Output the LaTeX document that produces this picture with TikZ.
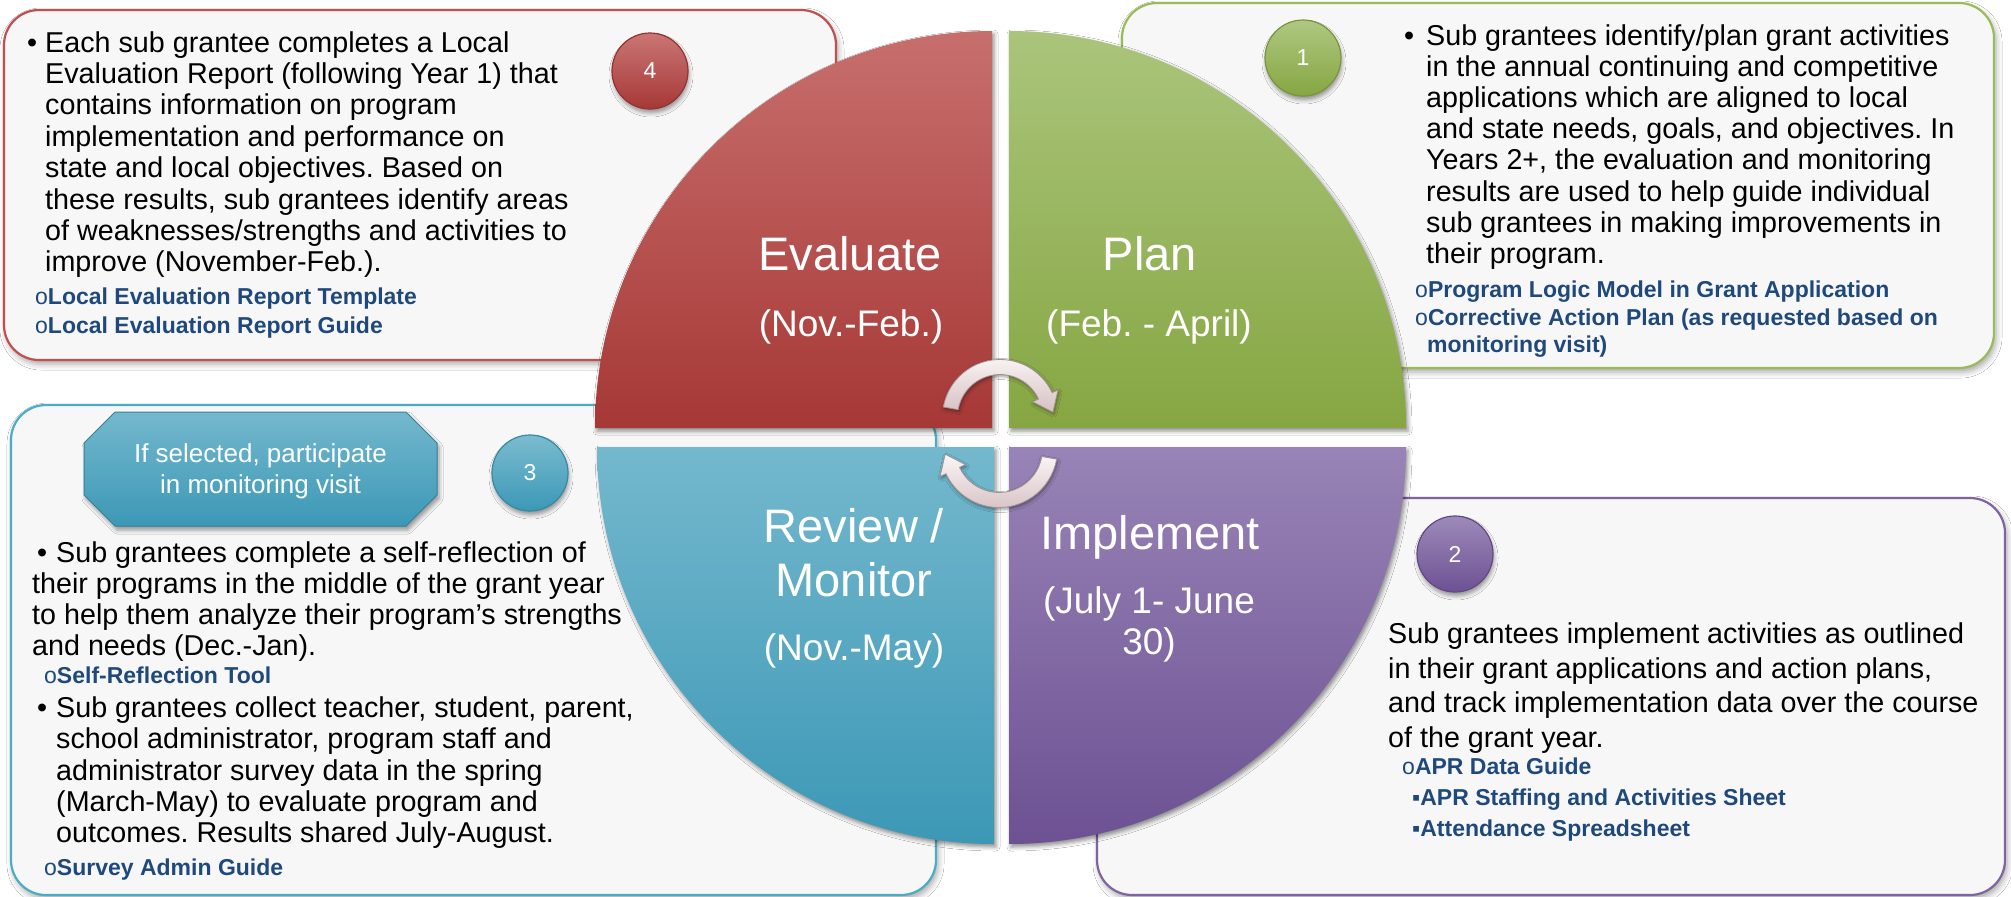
\documentclass[tikz,border=0pt]{standalone}
\usepackage{fontspec}
\setmainfont{Liberation Sans}
\usetikzlibrary{calc,shadows.blur}
\definecolor{boxfill}{HTML}{F7F7F7}
\definecolor{redB}{HTML}{C0504D}
\definecolor{greenB}{HTML}{9BBB59}
\definecolor{blueB}{HTML}{4BACC6}
\definecolor{purpleB}{HTML}{8064A2}
\definecolor{redT}{HTML}{C76F6D}
\definecolor{redD}{HTML}{A63836}
\definecolor{greenT}{HTML}{AAC57B}
\definecolor{greenD}{HTML}{86A642}
\definecolor{blueT}{HTML}{74B8CD}
\definecolor{blueD}{HTML}{3C98B6}
\definecolor{purpleT}{HTML}{9884B6}
\definecolor{purpleD}{HTML}{6D5193}
\definecolor{linkblue}{HTML}{1F497D}
\definecolor{arrT}{HTML}{FBF6F6}
\definecolor{arrD}{HTML}{D6C0C3}
\definecolor{arrE}{HTML}{A39193}
\newcommand\myBody{\fontsize{28.7}{31}\selectfont}
\newcommand\myLink{\bfseries\fontsize{23}{26}\selectfont}
\newcommand\myLab{\fontsize{47}{54}\selectfont}
\newcommand\mySub{\fontsize{37}{42}\selectfont}
\newcommand\myNum{\fontsize{23}{26}\selectfont}
\newcommand\myOct{\fontsize{26}{31}\selectfont}
\frenchspacing
\begin{document}
\frenchspacing
\begin{tikzpicture}[x=1pt,y=-1pt,
  box/.style={rounded corners=35pt, fill=boxfill, line width=2.2pt,
    blur shadow={shadow xshift=2pt, shadow yshift=-4pt, shadow blur radius=6pt, shadow opacity=35}},
  quad/.style={blur shadow={shadow xshift=2pt, shadow yshift=-3pt, shadow blur radius=4pt, shadow opacity=45}},
  num/.style={circle, minimum size=76pt, inner sep=0pt, line width=1.2pt, text=white, font=\myNum,
    blur shadow={shadow xshift=1pt, shadow yshift=-4pt, shadow blur radius=4pt, shadow opacity=40}},
  body/.style={font=\myBody, anchor=base west, inner sep=0pt, text=black},
  link/.style={font=\myLink, anchor=base west, inner sep=0pt, text=linkblue},
  qlab/.style={font=\myLab, anchor=base, inner sep=0pt, text=white},
  qsub/.style={font=\mySub, anchor=base, inner sep=0pt, text=white},
  octtext/.style={font=\myOct, anchor=base, inner sep=0pt, text=white},
  arrowband/.style={top color=arrT, bottom color=arrD, draw=arrE, line width=0.8pt,
    blur shadow={shadow xshift=1pt, shadow yshift=-2pt, shadow blur radius=3pt, shadow opacity=40}}
]
\useasboundingbox (0,0) rectangle (2011,897);
\fill[white] (0,0) rectangle (2011,897);

% text boxes
\draw[box, draw=redB] (4,10) rectangle (836,360);
\draw[box, draw=greenB] (1122,3) rectangle (1994,368);
\draw[box, draw=blueB] (11,405) rectangle (936,895);
\draw[box, draw=purpleB] (1097,498) rectangle (2005,895);

% quadrants
\coordinate (qr) at (992,428);
\coordinate (qg) at (1009,428);
\coordinate (qb) at (994,447);
\coordinate (qp) at (1009,447);
\path[quad, top color=redT, bottom color=redD] (qr) -- ++(-397,0) arc[start angle=180, end angle=270, radius=397] -- cycle;
\path[quad, top color=greenT, bottom color=greenD] (qg) -- ++(0,-397) arc[start angle=270, end angle=360, radius=397] -- cycle;
\path[quad, top color=blueT, bottom color=blueD] (qb) -- ++(0,397) arc[start angle=90, end angle=180, radius=397] -- cycle;
\path[quad, top color=purpleT, bottom color=purpleD] (qp) -- ++(397,0) arc[start angle=0, end angle=90, radius=397] -- cycle;

% quadrant labels
\node[qlab] (evl) at (850,270) {Evaluate};
\node[qsub] (evd) at (851,336) {(Nov.-Feb.)};
\node[qlab] (pll) at (1150,270) {Plan};
\node[qsub] (pld) at (1149,336) {(Feb. - April)};
\node[qlab] (rvl) at (854,542) {Review /};
\node[qlab] (rvm) at (854,596) {Monitor};
\node[qsub] (rvd) at (854,660) {(Nov.-May)};
\node[qlab] (iml) at (1150,549) {Implement};
\node[qsub] (imd1) at (1149,613) {(July 1- June};
\node[qsub] (imd2) at (1149,654) {30)};

% circular arrows
\coordinate (ca) at (1000,417);
\coordinate (cb) at (999,449);
\path[arrowband] ($(ca)+(190:57.5)$) arc[start angle=190, end angle=335, radius=57.5]
  -- ($(ca)+(335:64)$) -- ($(ca)+(335:50)+(65:18)$) -- ($(ca)+(335:36)$)
  -- ($(ca)+(335:42.5)$) arc[start angle=335, end angle=190, radius=42.5] -- cycle;
\path[arrowband] ($(cb)+(10:58.5)$) arc[start angle=10, end angle=155, radius=58.5]
  -- ($(cb)+(155:65)$) -- ($(cb)+(155:51)+(245:18)$) -- ($(cb)+(155:37)$)
  -- ($(cb)+(155:43.5)$) arc[start angle=155, end angle=10, radius=43.5] -- cycle;

% numbered circles
\node[num, draw=redD!90!black, top color=redT!95!white, bottom color=redD] (n4) at (650,71) {4};
\node[num, draw=greenD!90!black, top color=greenT!95!white, bottom color=greenD] (n1) at (1303,58) {1};
\node[num, draw=blueD!90!black, top color=blueT!95!white, bottom color=blueD] (n3) at (530,473) {3};
\node[num, draw=purpleD!90!black, top color=purpleT!95!white, bottom color=purpleD] (n2) at (1455,554) {2};

% monitoring visit octagon
\path[top color=blueT, bottom color=blueD, draw=blueD!85!black, line width=1pt,
  blur shadow={shadow xshift=2pt, shadow yshift=-4pt, shadow blur radius=4pt, shadow opacity=40}]
  (84,443) -- (115,412) -- (406,412) -- (437,443) -- (437,495) -- (406,526) -- (115,526) -- (84,495) -- cycle;
\node[octtext] (mon1) at (260.5,462) {If selected, participate};
\node[octtext] (mon2) at (260.5,493) {in monitoring visit};

% box 4 text (Evaluate)
\node[body] (b4bul) at (27,52) {•};
\foreach \i/\t in {0/{Each sub grantee completes a Local},
  1/{Evaluation Report (following Year 1) that},
  2/{contains information on program},
  3/{implementation and performance on},
  4/{state and local objectives. Based on},
  5/{these results, sub grantees identify areas},
  6/{of weaknesses/strengths and activities to},
  7/{improve (November-Feb.).}}
  \node[body] (b4-\i) at (45,{52+31.4*\i}) {\t};
\node[link] (l4-0) at (35,304) {{\mdseries o}Local Evaluation Report Template};
\node[link] (l4-1) at (35,333) {{\mdseries o}Local Evaluation Report Guide};

% box 1 text (Plan)
\node[body] (b1bul) at (1404,45) {•};
\foreach \i/\t in {0/{Sub grantees identify/plan grant activities},
  1/{in the annual continuing and competitive},
  2/{applications which are aligned to local},
  3/{and state needs, goals, and objectives. In},
  4/{Years 2+, the evaluation and monitoring},
  5/{results are used to help guide individual},
  6/{sub grantees in making improvements in},
  7/{their program.}}
  \node[body] (b1-\i) at (1426,{45+31.2*\i}) {\t};
\node[link] (l1-0) at (1415,297) {{\mdseries o}Program Logic Model in Grant Application};
\node[link] (l1-1) at (1415,325) {{\mdseries o}Corrective Action Plan (as requested based on};
\node[link] (l1-2) at (1427,352) {monitoring visit)};

% box 3 text (Review / Monitor)
\node[body] (b3bul1) at (37,562) {•};
\node[body] (b3-0) at (56,562) {Sub grantees complete a self-reflection of};
\node[body] (b3-1) at (32,593) {their programs in the middle of the grant year};
\node[body] (b3-2) at (32,624) {to help them analyze their program’s strengths};
\node[body] (b3-3) at (32,655) {and needs (Dec.-Jan).};
\node[link] (l3-0) at (44,683) {{\mdseries o}Self-Reflection Tool};
\node[body] (b3bul2) at (37,717) {•};
\node[body] (b3-4) at (56,717) {Sub grantees collect teacher, student, parent,};
\node[body] (b3-5) at (56,748) {school administrator, program staff and};
\node[body] (b3-6) at (56,780) {administrator survey data in the spring};
\node[body] (b3-7) at (56,811) {(March-May) to evaluate program and};
\node[body] (b3-8) at (56,842) {outcomes. Results shared July-August.};
\node[link] (l3-1) at (44,875) {{\mdseries o}Survey Admin Guide};

% box 2 text (Implement)
\node[body] (b2-0) at (1388,643) {Sub grantees implement activities as outlined};
\node[body] (b2-1) at (1388,678) {in their grant applications and action plans,};
\node[body] (b2-2) at (1388,712) {and track implementation data over the course};
\node[body] (b2-3) at (1388,747) {of the grant year.};
\node[link] (l2-0) at (1402,774) {{\mdseries o}APR Data Guide};
\node[link] (l2-1) at (1412,805) {{\mdseries ▪}APR Staffing and Activities Sheet};
\node[link] (l2-2) at (1412,836) {{\mdseries ▪}Attendance Spreadsheet};
\end{tikzpicture}
\end{document}
